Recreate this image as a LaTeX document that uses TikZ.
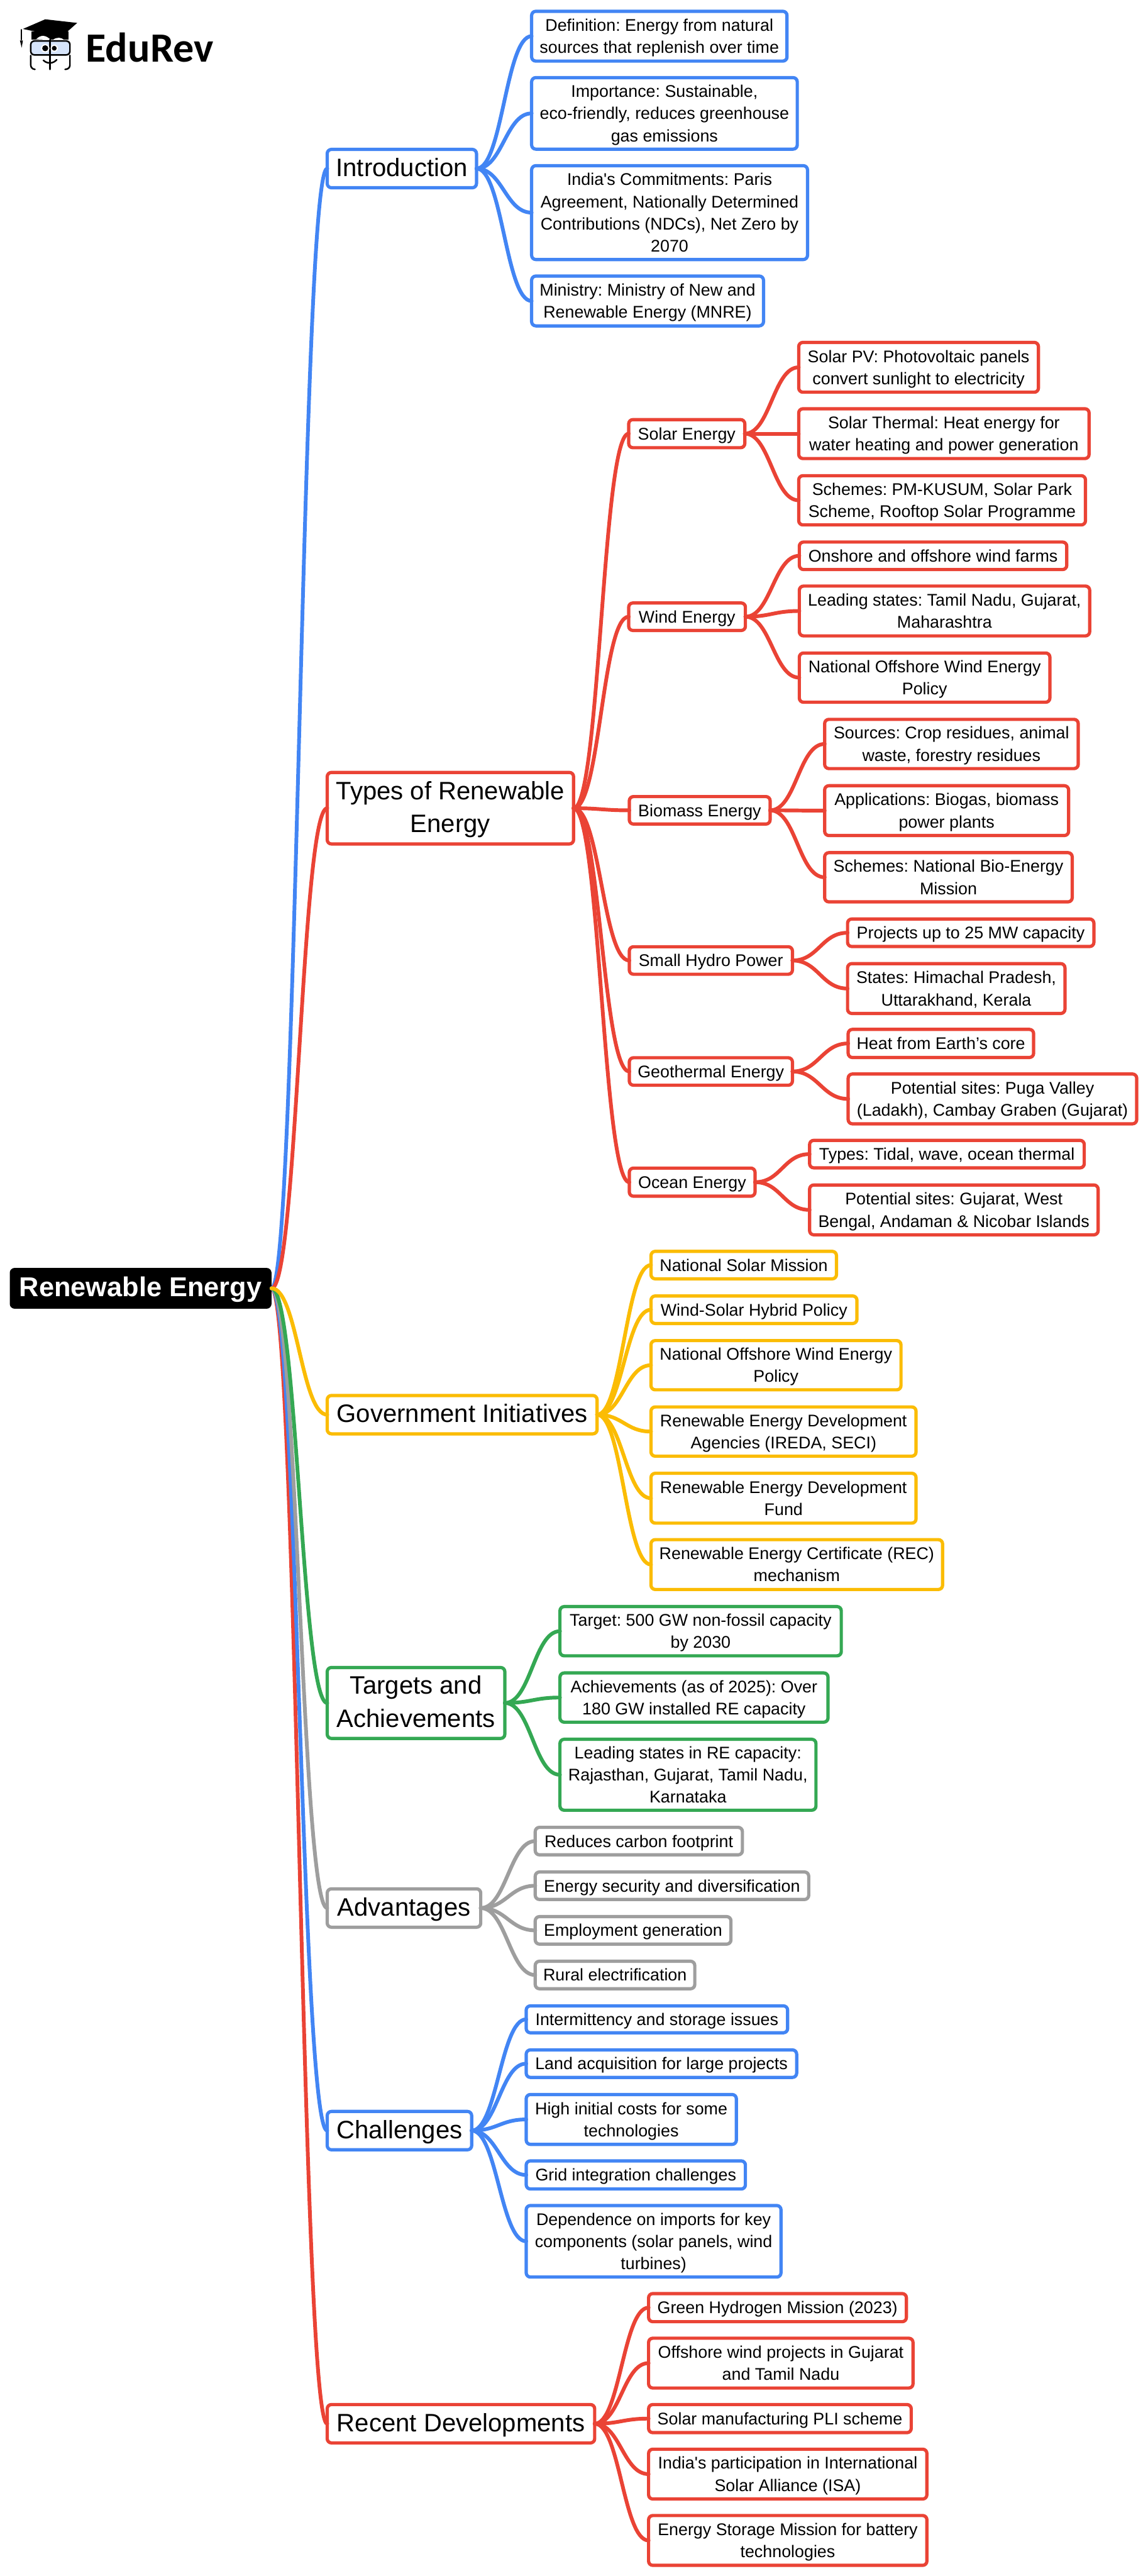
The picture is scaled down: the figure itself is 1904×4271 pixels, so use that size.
\documentclass[tikz,border=0pt]{standalone}
\usepackage{fontspec}
\setmainfont{Liberation Sans}[Ligatures=TeXOff]
\newfontfamily\logofont{Carlito}
\AtBeginDocument{\frenchspacing}
\tikzset{
  x=0.5pt,y=-0.5pt,
  box/.style={rounded corners=3.5pt,line width=2.7pt,outer sep=0pt,fill=white,text=black,align=center,inner sep=0pt,anchor=west},
  leaf/.style={box,font={\fontsize{14}{18.35}\selectfont\def\sth{14pt}\def\std{4pt}}},
  mid/.style={box,font={\fontsize{14}{18.35}\selectfont\def\sth{14pt}\def\std{4pt}}},
  top/.style={box,font={\fontsize{20.9}{27.5}\selectfont\def\sth{20pt}\def\std{7pt}}},
  root/.style={rounded corners=4pt,fill=black,text=white,align=center,outer sep=0pt,font={\bfseries\fontsize{22.6}{27}\selectfont\def\sth{20pt}\def\std{6.5pt}},inner sep=0pt,anchor=west},
  bl/.style={draw=cblue},rd/.style={draw=cred},yl/.style={draw=cyel},gr/.style={draw=cgreen},gy/.style={draw=cgrey},
  ln/.style={line width=3.1pt,line cap=round},
  ic/.style={draw=black,line width=1.3pt,line cap=round},
}
\definecolor{cblue}{HTML}{4285F4}
\definecolor{cred}{HTML}{EA4335}
\definecolor{cyel}{HTML}{FBBC04}
\definecolor{cgreen}{HTML}{34A853}
\definecolor{cgrey}{HTML}{9E9E9E}
\definecolor{cglass}{HTML}{D6E4FA}
% \nd{style}{name}{x0}{x1}{y0}{y1}{text}: x0..y1 are the outer edges of the border
\newcommand\nd[7]{\node[#1,minimum width={(#4-#3-5.4)*0.5pt},minimum height={(#6-#5-5.4)*0.5pt}] (#2) at ({#3+2.7},{(#5+#6)/2}) {\rule{0pt}{\sth}#7\rule[-\std]{0pt}{\std}};}
% \fan{colour}{dx}{parent}{children}
\newcommand\fan[4]{\foreach \c in {#4} \draw[ln,draw=#1] (#3.east) .. controls +(#2,0) and +(-#2,0) .. (\c.west);}
\begin{document}
\begin{tikzpicture}
\useasboundingbox (0,0) rectangle (1904,4271);
\fill[white] (0,0) rectangle (1904,4271);
% logo icon
\fill[black] (52,52) rectangle (114,66);
\fill[white] (60,65) .. controls (68,57) and (76,58) .. (84,66) -- cycle;
\fill[white] (88,66) .. controls (94,61) and (102,62) .. (106,66) -- cycle;
\fill[black] (38,48) -- (75,32) -- (128,38) -- (102,61) -- (72,55) -- cycle;
\draw[ic,line width=0.9pt] (35.5,49) -- (35.5,66);
\fill[black] (33,67) -- (38,67) -- (36,79) -- cycle;
\draw[ic,fill=cglass,rounded corners=3pt] (51,68) rectangle (116,91);
\draw[ic,rounded corners=3pt] (51,92) -- (51,114) -- (58,115);
\draw[ic,rounded corners=3pt] (116,92) -- (116,114) -- (108,115);
\draw[ic] (83,66) -- (83,115);
\fill[white] (75,80) circle[radius=7];\fill[white] (90,80) circle[radius=6];
\fill[black] (75,80) circle[radius=5];
\fill[black] (90,80) circle[radius=4];
\draw[ic] (72,100) .. controls (78,106) and (88,106) .. (94,99);
\node[font=\logofont\bfseries\fontsize{34.5}{36}\selectfont,anchor=base west,inner sep=0pt] (logo) at (142,103) {EduRev};
% root
\nd{root}{R}{13.5}{453}{2099.5}{2172.5}{Renewable Energy}
% level 1
\nd{top,bl}{intro}{540}{793}{245}{314}{Introduction}
\nd{top,rd}{types}{540}{954}{1278}{1402}{Types of Renewable\\Energy}
\nd{top,yl}{gov}{540}{993}{2311}{2380}{Government Initiatives}
\nd{top,gr}{targ}{540}{840}{2762}{2885}{Targets and\\Achievements}
\nd{top,gy}{adv}{540}{800}{3129}{3198}{Advantages}
\nd{top,bl}{chal}{540}{785}{3498}{3567}{Challenges}
\nd{top,rd}{rec}{540}{989}{3984}{4053}{Recent Developments}
% intro leaves
\nd{leaf,bl}{i1}{879}{1308}{16}{104}{Definition: Energy from natural\\sources that replenish over time}
\nd{leaf,bl}{i2}{879}{1325}{126}{250}{Importance: Sustainable,\\eco-friendly, reduces greenhouse\\gas emissions}
\nd{leaf,bl}{i3}{879}{1342}{272}{433}{India's Commitments: Paris\\Agreement, Nationally Determined\\Contributions (NDCs), Net Zero by\\2070}
\nd{leaf,bl}{i4}{879}{1269}{455}{543}{Ministry: Ministry of New and\\Renewable Energy (MNRE)}
% types mid
\nd{mid,rd}{solar}{1040}{1238}{693}{745}{Solar Energy}
\nd{mid,rd}{wind}{1040}{1239}{997}{1048}{Wind Energy}
\nd{mid,rd}{bio}{1041}{1280}{1318}{1369}{Biomass Energy}
\nd{mid,rd}{hydro}{1041}{1317}{1567}{1618}{Small Hydro Power}
\nd{mid,rd}{geo}{1041}{1317}{1751}{1802}{Geothermal Energy}
\nd{mid,rd}{ocean}{1041}{1255}{1934}{1986}{Ocean Energy}
% types leaves
\nd{leaf,rd}{s1}{1322}{1725}{565}{653}{Solar PV: Photovoltaic panels\\convert sunlight to electricity}
\nd{leaf,rd}{s2}{1322}{1809}{675}{763}{Solar Thermal: Heat energy for\\water heating and power generation}
\nd{leaf,rd}{s3}{1322}{1803}{786}{873}{Schemes: PM-KUSUM, Solar Park\\Scheme, Rooftop Solar Programme}
\nd{leaf,rd}{w1}{1323}{1772}{896}{947}{Onshore and offshore wind farms}
\nd{leaf,rd}{w2}{1323}{1810}{969}{1057}{Leading states: Tamil Nadu, Gujarat,\\Maharashtra}
\nd{leaf,rd}{w3}{1323}{1744}{1080}{1167}{National Offshore Wind Energy\\Policy}
\nd{leaf,rd}{b1}{1365}{1791}{1190}{1277}{Sources: Crop residues, animal\\waste, forestry residues}
\nd{leaf,rd}{b2}{1365}{1775}{1300}{1388}{Applications: Biogas, biomass\\power plants}
\nd{leaf,rd}{b3}{1365}{1781}{1411}{1498}{Schemes: National Bio-Energy\\Mission}
\nd{leaf,rd}{h1}{1403}{1817}{1521}{1572}{Projects up to 25 MW capacity}
\nd{leaf,rd}{h2}{1403}{1769}{1595}{1683}{States: Himachal Pradesh,\\Uttarakhand, Kerala}
\nd{leaf,rd}{g1}{1404}{1717}{1704}{1756}{Heat from Earth’s core}
\nd{leaf,rd}{g2}{1404}{1888}{1778}{1866}{Potential sites: Puga Valley\\(Ladakh), Cambay Graben (Gujarat)}
\nd{leaf,rd}{o1}{1340}{1801}{1888}{1939}{Types: Tidal, wave, ocean thermal}
\nd{leaf,rd}{o2}{1340}{1824}{1962}{2050}{Potential sites: Gujarat, West\\Bengal, Andaman \& Nicobar Islands}
% gov leaves
\nd{leaf,yl}{g-1}{1077}{1390}{2072}{2123}{National Solar Mission}
\nd{leaf,yl}{g-2}{1077}{1424}{2146}{2197}{Wind-Solar Hybrid Policy}
\nd{leaf,yl}{g-3}{1077}{1497}{2220}{2307}{National Offshore Wind Energy\\Policy}
\nd{leaf,yl}{g-4}{1077}{1522}{2330}{2417}{Renewable Energy Development\\Agencies (IREDA, SECI)}
\nd{leaf,yl}{g-5}{1077}{1522}{2440}{2528}{Renewable Energy Development\\Fund}
\nd{leaf,yl}{g-6}{1077}{1566}{2550}{2638}{Renewable Energy Certificate (REC)\\mechanism}
% targets
\nd{leaf,gr}{t1}{926}{1398}{2661}{2748}{Target: 500 GW non-fossil capacity\\by 2030}
\nd{leaf,gr}{t2}{926}{1376}{2771}{2858}{Achievements (as of 2025): Over\\180 GW installed RE capacity}
\nd{leaf,gr}{t3}{926}{1356}{2881}{3004}{Leading states in RE capacity:\\Rajasthan, Gujarat, Tamil Nadu,\\Karnataka}
% advantages
\nd{leaf,gy}{a1}{885}{1234}{3027}{3078}{Reduces carbon footprint}
\nd{leaf,gy}{a2}{885}{1344}{3101}{3152}{Energy security and diversification}
\nd{leaf,gy}{a3}{885}{1215}{3175}{3226}{Employment generation}
\nd{leaf,gy}{a4}{885}{1155}{3249}{3300}{Rural electrification}
% challenges
\nd{leaf,bl}{c1}{870}{1309}{3323}{3373}{Intermittency and storage issues}
\nd{leaf,bl}{c2}{870}{1324}{3396}{3447}{Land acquisition for large projects}
\nd{leaf,bl}{c3}{870}{1224}{3470}{3558}{High initial costs for some\\technologies}
\nd{leaf,bl}{c4}{870}{1239}{3580}{3632}{Grid integration challenges}
\nd{leaf,bl}{c5}{870}{1298}{3654}{3778}{Dependence on imports for key\\components (solar panels, wind\\turbines)}
% recent
\nd{leaf,rd}{r1}{1073}{1506}{3800}{3852}{Green Hydrogen Mission (2023)}
\nd{leaf,rd}{r2}{1073}{1517}{3874}{3962}{Offshore wind projects in Gujarat\\and Tamil Nadu}
\nd{leaf,rd}{r3}{1073}{1514}{3984}{4036}{Solar manufacturing PLI scheme}
\nd{leaf,rd}{r4}{1073}{1540}{4058}{4146}{India's participation in International\\Solar Alliance (ISA)}
\nd{leaf,rd}{r5}{1073}{1540}{4168}{4256}{Energy Storage Mission for battery\\technologies}
% connectors
\fan{cblue}{43}{R}{intro}
\fan{cred}{43}{R}{types}
\fan{cred}{43}{R}{rec}
\fan{cblue}{43}{R}{chal}
\fan{cgrey}{43}{R}{adv}
\fan{cgreen}{43}{R}{targ}
\fan{cyel}{43}{R}{gov}
\fan{cblue}{43}{intro}{i1,i2,i3,i4}
\fan{cred}{44}{types}{solar,wind,bio,hydro,geo,ocean}
\fan{cred}{42}{solar}{s1,s2,s3}
\fan{cred}{42}{wind}{w1,w2,w3}
\fan{cred}{43}{bio}{b1,b2,b3}
\fan{cred}{43}{hydro}{h1,h2}
\fan{cred}{43}{geo}{g1,g2}
\fan{cred}{43}{ocean}{o1,o2}
\fan{cyel}{42}{gov}{g-1,g-2,g-3,g-4,g-5,g-6}
\fan{cgreen}{43}{targ}{t1,t2,t3}
\fan{cgrey}{42}{adv}{a1,a2,a3,a4}
\fan{cblue}{42}{chal}{c1,c2,c3,c4,c5}
\fan{cred}{42}{rec}{r1,r2,r3,r4,r5}
\end{tikzpicture}
\end{document}
